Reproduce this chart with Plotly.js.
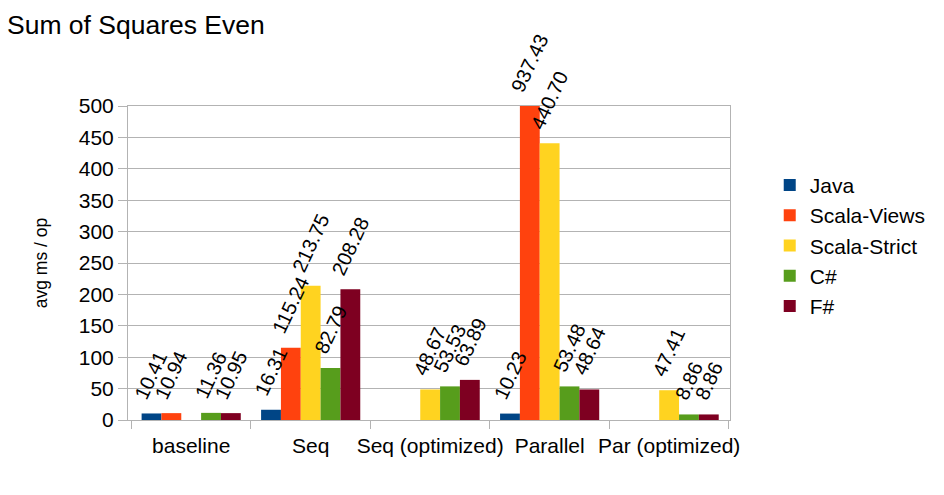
<!DOCTYPE html>
<html>
<head>
<meta charset="utf-8">
<script src="https://cdn.plot.ly/plotly-3.0.1.min.js"></script>
<style>html,body{margin:0;padding:0;background:#fff;}#chart{width:944px;height:495px;}</style>
</head>
<body>
<div id="chart"></div>
<script>
const categories = ["baseline", "Seq", "Seq (optimized)", "Parallel", "Par (optimized)"];
const seriesNames = ["Java", "Scala-Views", "Scala-Strict", "C#", "F#"];
const java        = [10.41, 16.31, null, 10.23, null];
const scalaViews  = [10.94, 115.24, null, 937.43, null];
const scalaStrict = [null, 213.75, 48.67, 440.70, 47.41];
const csharp      = [11.36, 82.79, 53.53, 53.48, 8.86];
const fsharp      = [10.95, 208.28, 63.89, 48.64, 8.86];
const yTickVals = [0, 50, 100, 150, 200, 250, 300, 350, 400, 450, 500];

const seriesData = [java, scalaViews, scalaStrict, csharp, fsharp];
const colors = ["#004586", "#ff420e", "#ffd320", "#579d1c", "#7e0021"];
const FONT = "Liberation Sans, Arial, sans-serif";
const YMAX = 500;
const barPx = 20;

const traces = seriesData.map((vals, i) => ({
  type: "bar",
  name: seriesNames[i],
  x: categories,
  y: vals,
  marker: {color: colors[i], line: {width: 0}},
  hoverinfo: "skip"
}));

const annotations = [];
seriesData.forEach((vals, i) => {
  vals.forEach((v, j) => {
    if (v === null) return;
    annotations.push({
      x: categories[j], y: Math.min(v, YMAX), xref: "x", yref: "y",
      xshift: (i - 2) * barPx, yshift: 8,
      text: v.toFixed(2), showarrow: false, textangle: -65,
      xanchor: "center", yanchor: "bottom",
      font: {family: FONT, size: 20, color: "#000"}
    });
  });
});

const layout = {
  width: 944, height: 495,
  margin: {l: 128, r: 214, t: 106, b: 75, autoexpand: false},
  paper_bgcolor: "#fff", plot_bgcolor: "#fff",
  font: {family: FONT, color: "#000"},
  title: {
    text: "Sum of Squares Even", x: 0.0074, xanchor: "left",
    yref: "container", y: 0.951, yanchor: "middle",
    font: {family: FONT, size: 26.5, color: "#000"}
  },
  barmode: "group", bargap: 0.17, bargroupgap: 0,
  xaxis: {
    type: "category", tickson: "boundaries", ticks: "outside", ticklen: 8,
    tickcolor: "#b3b3b3", showline: true, linecolor: "#b3b3b3", linewidth: 1,
    mirror: true, showgrid: false, tickangle: 0, automargin: false,
    ticklabelstandoff: 7,
    tickfont: {family: FONT, size: 21, color: "#000"}
  },
  yaxis: {
    range: [0, YMAX], tickvals: yTickVals, ticktext: yTickVals.map(String),
    ticks: "outside", ticklen: 9, tickcolor: "#b3b3b3",
    showgrid: true, gridcolor: "#b3b3b3", gridwidth: 1,
    showline: true, linecolor: "#b3b3b3", linewidth: 1, mirror: true,
    zeroline: false, automargin: false,
    tickfont: {family: FONT, size: 21, color: "#000"},
    title: {text: "avg ms / op", standoff: 26, font: {family: FONT, size: 17.5, color: "#000"}}
  },
  legend: {
    x: 1.066, xanchor: "left", y: 0.555, yanchor: "middle",
    font: {family: FONT, size: 21, color: "#000"},
    tracegroupgap: 0, bgcolor: "rgba(0,0,0,0)"
  },
  showlegend: true,
  annotations: annotations
};

Plotly.newPlot("chart", traces, layout, {displayModeBar: false, staticPlot: true});
</script>
</body>
</html>
